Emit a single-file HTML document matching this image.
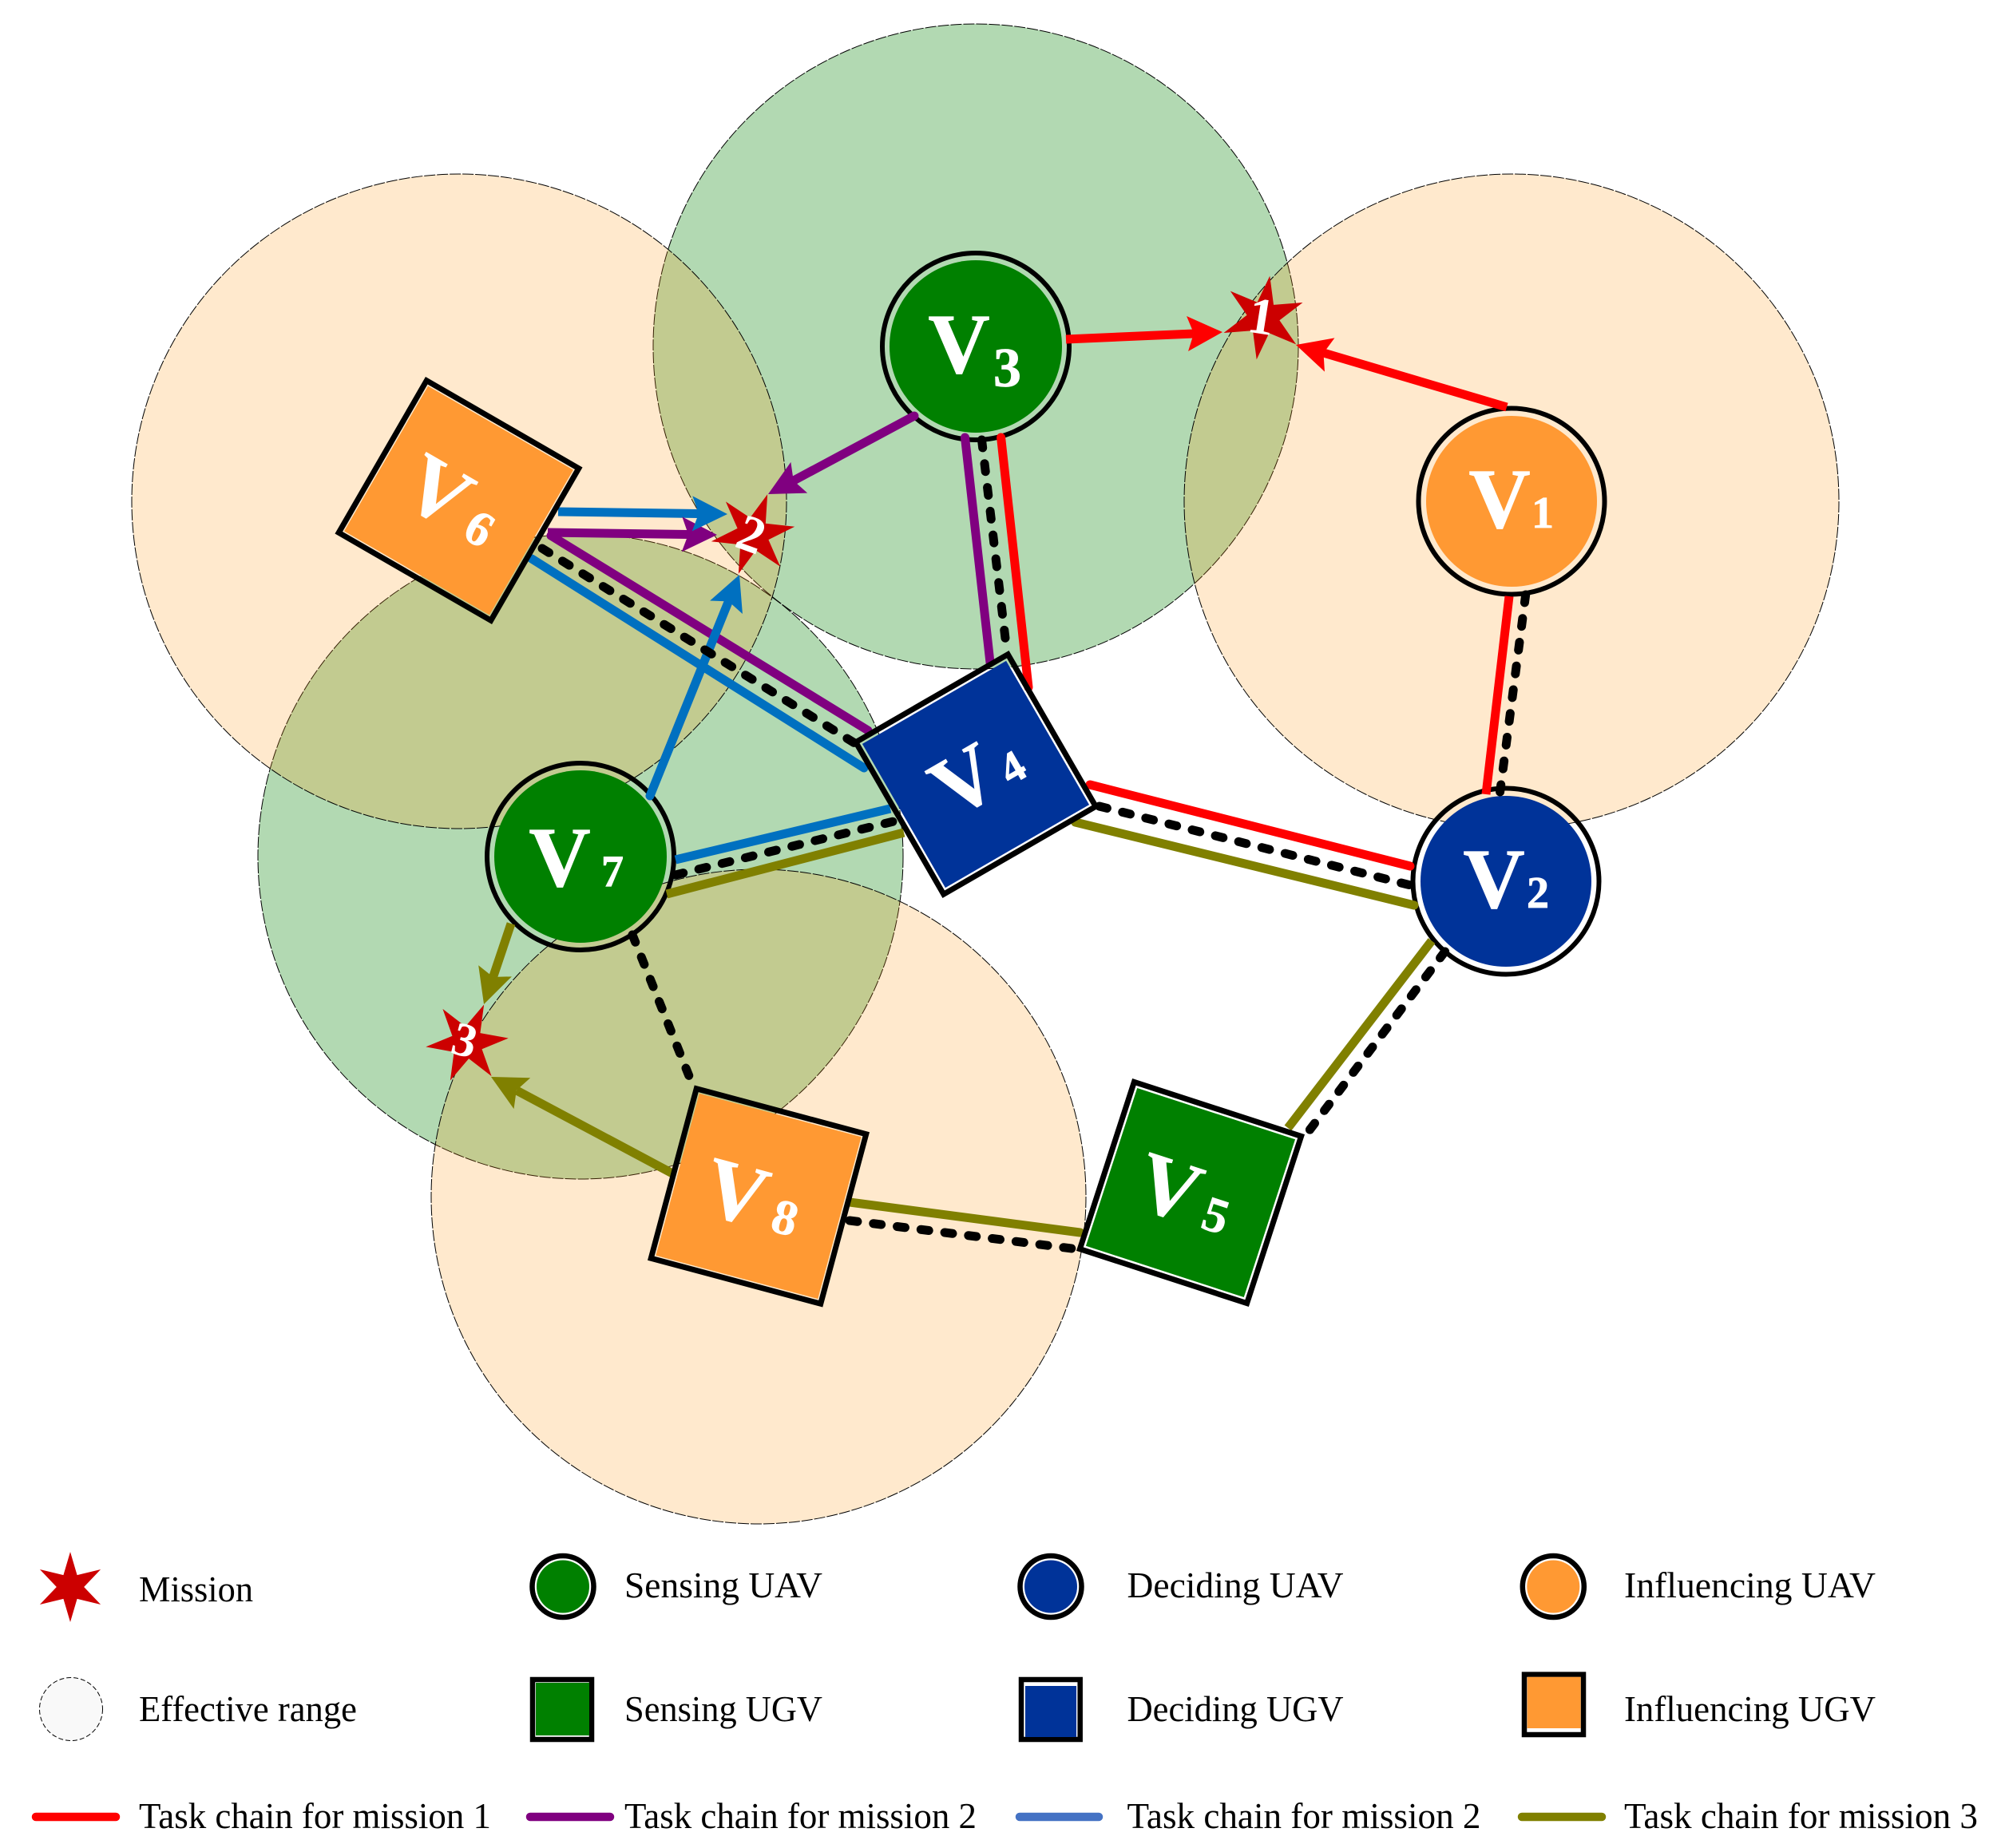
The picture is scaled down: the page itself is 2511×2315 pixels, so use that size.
<!DOCTYPE html>
<html><head><meta charset="utf-8"><style>html,body{margin:0;padding:0;background:#fff}svg{display:block}</style></head><body>
<svg xmlns="http://www.w3.org/2000/svg" width="2511" height="2315" viewBox="0 0 2511 2315" font-family="'Liberation Serif',serif">
<defs>
<polygon id="star" points="0,-100 19.5,-33.8 86.6,-50 39,0 86.6,50 19.5,33.8 0,100 -19.5,33.8 -86.6,50 -39,0 -86.6,-50 -19.5,-33.8"/>
<polygon id="head" points="0,0 -44,-22 -36,0 -44,22"/>
</defs>
<rect width="2511" height="2315" fill="#fff"/>
<!-- ranges -->
<g stroke="#000" stroke-width="1" stroke-dasharray="14 2">
<circle cx="1222" cy="434" r="404" fill="#008000" fill-opacity="0.3"/>
<circle cx="727" cy="1073" r="404" fill="#008000" fill-opacity="0.3"/>
<circle cx="1893" cy="628" r="410" fill="#ff9611" fill-opacity="0.21"/>
<circle cx="575" cy="628" r="410" fill="#ff9611" fill-opacity="0.21"/>
<circle cx="950" cy="1499" r="410" fill="#ff9611" fill-opacity="0.21"/>
</g>
<!-- circle nodes -->
<g stroke="#000" stroke-width="6" fill="none">
<circle cx="1893" cy="628" r="116.500"/><circle cx="1886" cy="1104" r="116.500"/><circle cx="1222" cy="434" r="117"/><circle cx="727" cy="1073" r="117"/>
</g>
<circle cx="1893" cy="628" r="107" fill="#ff9933"/>
<circle cx="1886" cy="1104" r="107" fill="#003399"/>
<circle cx="1222" cy="434" r="108" fill="#008000"/>
<circle cx="727" cy="1073" r="108" fill="#008000"/>
<!-- links -->
<g fill="none" stroke-width="11" stroke-linecap="round">
<g stroke="#ff0000">
<line x1="1335" y1="425" x2="1495" y2="418" stroke-linecap="butt"/>
<line x1="1887" y1="510" x2="1657.5" y2="442" stroke-linecap="butt"/>
<line x1="1253.6" y1="548" x2="1288" y2="861"/>
<line x1="1365" y1="983" x2="1766" y2="1085"/>
<line x1="1890" y1="747" x2="1861" y2="995" stroke-linecap="butt"/>
</g>
<g stroke="#800080">
<line x1="1208.5" y1="548" x2="1240" y2="830"/>
<line x1="1145" y1="521" x2="994" y2="602"/>
<line x1="686" y1="667" x2="862" y2="669.5" stroke-linecap="butt"/>
<line x1="690" y1="671" x2="1087" y2="915"/>
</g>
<g stroke="#0070c0">
<line x1="699" y1="641" x2="875" y2="643.5" stroke-linecap="butt"/>
<line x1="666" y1="700" x2="1082" y2="962"/>
<line x1="814" y1="997" x2="912.5" y2="753"/>
<line x1="846" y1="1077" x2="1115" y2="1013" stroke-linecap="butt"/>
</g>
<g stroke="#808000">
<line x1="835" y1="1120" x2="1132" y2="1043" stroke-linecap="butt"/>
<line x1="1346.7" y1="1030" x2="1771" y2="1134"/>
<line x1="1793" y1="1178.5" x2="1613" y2="1413" stroke-linecap="butt"/>
<line x1="1064" y1="1506" x2="1352.6" y2="1544"/>
<line x1="640" y1="1157" x2="617.5" y2="1224" stroke-linecap="butt"/>
<line x1="844" y1="1471" x2="647" y2="1366" stroke-linecap="butt"/>
</g>
<g stroke="#000" stroke-dasharray="10 20">
<line x1="1229.5" y1="551" x2="1260" y2="808"/>
<line x1="679" y1="687" x2="1072" y2="932"/>
<line x1="846" y1="1096" x2="1127" y2="1027"/>
<line x1="1376.7" y1="1010" x2="1766.5" y2="1109"/>
<line x1="1910.7" y1="745" x2="1878.6" y2="992"/>
<line x1="1809.6" y1="1192" x2="1639" y2="1417"/>
<line x1="1064" y1="1529" x2="1350" y2="1565"/>
<line x1="792" y1="1171" x2="865" y2="1353"/>
</g>
</g>
<!-- stars -->
<g fill="#cc0000">
<use href="#star" transform="translate(1582,398) rotate(9) scale(.53)"/>
<use href="#star" transform="translate(943,669) rotate(20) scale(.53)"/>
<use href="#star" transform="translate(585,1306) rotate(24) scale(.52)"/>
</g>
<!-- arrowheads -->
<use href="#head" fill="#ff0000" transform="translate(1531,416) rotate(-2.6)"/>
<use href="#head" fill="#ff0000" transform="translate(1623,432) rotate(196.5)"/>
<use href="#head" fill="#800080" transform="translate(962,619) rotate(151.8)"/>
<use href="#head" fill="#800080" transform="translate(898,670) rotate(.8)"/>
<use href="#head" fill="#0070c0" transform="translate(911,644) rotate(.8)"/>
<use href="#head" fill="#0070c0" transform="translate(926,720) rotate(-68)"/>
<use href="#head" fill="#808000" transform="translate(606,1258) rotate(108.6)"/>
<use href="#head" fill="#808000" transform="translate(615,1349) rotate(208)"/>
<!-- star labels -->
<g fill="#fff" font-weight="bold" text-anchor="middle">
<text font-size="65" transform="translate(1580,396) rotate(9)" y="22">1</text>
<text font-size="65" transform="translate(941,669) rotate(20)" y="22">2</text>
<text font-size="60" transform="translate(582,1303) rotate(15)" y="20">3</text>
</g>
<!-- square nodes -->
<g transform="translate(574.5,627) rotate(30)"><rect x="-110" y="-110" width="220" height="220" fill="none" stroke="#000" stroke-width="7"/><rect x="-105" y="-105" width="210" height="210" fill="#ff9933"/></g>
<g transform="translate(1222,970) rotate(-30)"><rect x="-110" y="-110" width="220" height="220" fill="none" stroke="#000" stroke-width="7"/><rect x="-104" y="-104" width="208" height="208" fill="#003399"/></g>
<g transform="translate(1491,1494) rotate(18)"><rect x="-110" y="-110" width="220" height="220" fill="none" stroke="#000" stroke-width="7"/><rect x="-104" y="-104" width="208" height="208" fill="#008000"/></g>
<g transform="translate(950,1498.5) rotate(15)"><rect x="-110" y="-110" width="220" height="220" fill="none" stroke="#000" stroke-width="7"/><rect x="-105" y="-105" width="210" height="210" fill="#ff9933"/></g>
<!-- node labels -->
<g fill="#fff" font-weight="bold" text-anchor="middle" stroke="#fff" stroke-width=".8">
<g transform="translate(1893,628)"><text font-size="107" x="-15" y="33">V</text><text font-size="56" x="39" y="33">1</text></g>
<g transform="translate(1886,1104)"><text font-size="107" x="-15" y="33">V</text><text font-size="56" x="40" y="33">2</text></g>
<g transform="translate(1222,434)"><text font-size="107" x="-21" y="33">V</text><text font-size="70" x="39.5" y="50">3</text></g>
<g transform="translate(727,1073)"><text font-size="107" x="-26" y="37">V</text><text font-size="56" x="40" y="37">7</text></g>
<g transform="translate(574.5,627) rotate(30)"><text font-size="107" x="-28" y="38">V</text><text font-size="62" x="40" y="38">6</text></g>
<g transform="translate(1222,970) rotate(-30)"><text font-size="107" x="-16" y="35">V</text><text font-size="56" x="44" y="34">4</text></g>
<g transform="translate(1491,1494) rotate(18)"><text font-size="107" x="-27" y="38">V</text><text font-size="62" x="39" y="38">5</text></g>
<g transform="translate(950,1498.5) rotate(15)"><text font-size="107" x="-28" y="38">V</text><text font-size="62" x="39" y="38">8</text></g>
</g>
<!-- legend -->
<use href="#star" fill="#cc0000" transform="translate(88,1988) scale(.44)"/>
<circle cx="89" cy="2141" r="39.5" fill="#f9f9f9" stroke="#000" stroke-width="1" stroke-dasharray="6 3"/>
<g fill="none" stroke="#000" stroke-width="6.500">
<circle cx="705" cy="1987.5" r="38.5"/><circle cx="1316" cy="1987.5" r="38.5"/><circle cx="1945.3" cy="1987.5" r="38.5"/>
<rect x="667" y="2104" width="74" height="75"/><rect x="1279" y="2104" width="73.700" height="75"/><rect x="1909" y="2097.600" width="74" height="75.400"/>
</g>
<circle cx="705" cy="1987.5" r="33" fill="#008000"/><circle cx="1316" cy="1987.5" r="33" fill="#003399"/><circle cx="1945.3" cy="1987.5" r="33" fill="#ff9933"/>
<rect x="671" y="2108" width="67" height="66" fill="#008000"/>
<rect x="1284" y="2112" width="64" height="64" fill="#003399"/>
<rect x="1912.6" y="2100.7" width="67" height="64.300" fill="#ff9933"/>
<g stroke-width="10.500" stroke-linecap="round">
<line x1="45" y1="2276" x2="145" y2="2276" stroke="#ff0000"/>
<line x1="664" y1="2276" x2="764" y2="2276" stroke="#800080"/>
<line x1="1277" y1="2276" x2="1376" y2="2276" stroke="#4472c4"/>
<line x1="1906" y1="2276" x2="2006" y2="2276" stroke="#808000"/>
</g>
<g font-size="46" fill="#000">
<text x="174" y="2006" textLength="143" lengthAdjust="spacingAndGlyphs">Mission</text>
<text x="782" y="2001" textLength="248" lengthAdjust="spacingAndGlyphs">Sensing UAV</text>
<text x="1411.5" y="2001" textLength="271" lengthAdjust="spacingAndGlyphs">Deciding UAV</text>
<text x="2034" y="2001" textLength="315" lengthAdjust="spacingAndGlyphs">Influencing UAV</text>
<text x="174" y="2156" textLength="273" lengthAdjust="spacingAndGlyphs">Effective range</text>
<text x="782" y="2156" textLength="248" lengthAdjust="spacingAndGlyphs">Sensing UGV</text>
<text x="1411.5" y="2156" textLength="271" lengthAdjust="spacingAndGlyphs">Deciding UGV</text>
<text x="2034" y="2156" textLength="315" lengthAdjust="spacingAndGlyphs">Influencing UGV</text>
<text x="174" y="2290" textLength="441" lengthAdjust="spacingAndGlyphs">Task chain for mission 1</text>
<text x="782" y="2290" textLength="441" lengthAdjust="spacingAndGlyphs">Task chain for mission 2</text>
<text x="1411.5" y="2290" textLength="443" lengthAdjust="spacingAndGlyphs">Task chain for mission 2</text>
<text x="2034" y="2290" textLength="443" lengthAdjust="spacingAndGlyphs">Task chain for mission 3</text>
</g>
</svg>
</body></html>
